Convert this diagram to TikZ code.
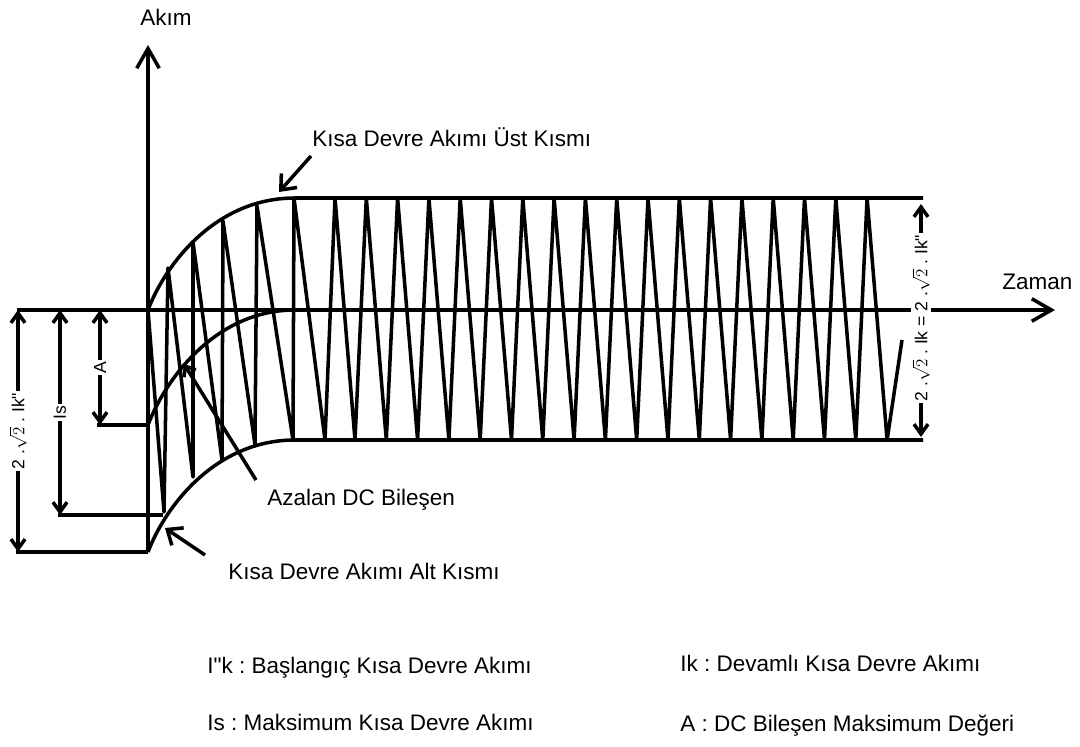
\documentclass[tikz,border=0pt]{standalone}
\usepackage{fontspec}
\setmainfont{Liberation Sans}
\usetikzlibrary{arrows.meta,calc,positioning}
\frenchspacing

\begin{document}
\begin{tikzpicture}[x=0.025cm,y=-0.025cm,
  curve/.style={line width=2.5pt,line join=round},
  axis/.style={line width=2.5pt,-{Straight Barb[length=14pt,width=16pt]}},
  dim/.style={line width=2.5pt,{Straight Barb[length=7pt,width=10pt]}-{Straight Barb[length=7pt,width=10pt]}},
  callout/.style={line width=2.5pt,-{Straight Barb[length=9pt,width=15pt]}},
  lbl/.style={font=\fontsize{16}{19}\selectfont,inner sep=0pt},
  dimlbl/.style={font=\fontsize{12.5}{15}\selectfont,fill=white,rotate=90,inner sep=1pt}]

\useasboundingbox (0,0) rectangle (1080,747);

\coordinate (o) at (148,310);
\coordinate (ytop) at (148,45);
\coordinate (ybot) at (148,552);
\coordinate (xl) at (17,310);
\coordinate (xr) at (1055,310);

\node[lbl,anchor=base] (akim) at (166,26) {Akım};
\node[lbl,anchor=base west] (zaman) at (1002,290) {Zaman};
\node[lbl,anchor=base west] (ust) at (312,147) {Kısa Devre Akımı Üst Kısmı};
\node[lbl,anchor=base west] (dc) at (267,506) {Azalan DC Bileşen};
\node[lbl,anchor=base west] (alt) at (228,579) {Kısa Devre Akımı Alt Kısmı};

\node[lbl,anchor=base west] (ikb) at (207,673) {I\textquotedbl k : Başlangıç Kısa Devre Akımı};
\node[lbl,anchor=base west] (ism) at (207,730) {Is : Maksimum Kısa Devre Akımı};
\node[lbl,anchor=base west] (ikd) at (680,671) {Ik : Devamlı Kısa Devre Akımı};
\node[lbl,anchor=base west] (adc) at (680,731) {A : DC Bileşen Maksimum Değeri};

\draw[axis] (ybot) -- (ytop);
\draw[axis] (xl) -- (xr);

\draw[curve] (o) .. controls (165,265) and (215,198) .. (295,198) -- (923,198);
\draw[curve] (148,425) .. controls (165,380) and (215,310) .. (295,310);
\draw[curve] (ybot) .. controls (165,507) and (215,440) .. (295,440) -- (923,440);

\draw[curve] (o) -- (164,512) -- (168,268) -- (193,477) -- (193,242) -- (222,460)
  -- (223,221) -- (255,445) -- (257,206) -- (293,440) -- (294,198) -- (325,440)
  \foreach \k in {0,...,17}{ -- ({335+31.3*\k},198) -- ({355+31.3*\k},440) }
  -- (902,340);

\coordinate (ae) at (97,425);
\coordinate (ise) at (58,515);
\coordinate (ike) at (16,552);
\draw[curve] (ae) -- (148,425);
\draw[curve] (ise) -- (163,515);
\draw[curve] (ike) -- (ybot);

\coordinate (at) at (100,310);
\coordinate (ab) at (100,425);
\coordinate (ist) at (60,310);
\coordinate (isb) at (60,515);
\coordinate (ikt) at (18,310);
\coordinate (ikbt) at (18,552);
\coordinate (rt) at (921,204);
\coordinate (rb) at (921,437);

\draw[dim] (at) -- node[dimlbl] {A} (ab);
\draw[dim] (ist) -- node[dimlbl] {Is} (isb);
\draw[dim] (ikt) -- node[dimlbl] {2 .$\sqrt{2}$ . Ik\textquotedbl} (ikbt);
\draw[dim] (rt) -- node[dimlbl,pos=0.49] {2 .$\sqrt{2}$ . Ik = 2 .$\sqrt{2}$ . Ik\textquotedbl} (rb);

\coordinate (tipu) at (279,192);
\coordinate (tipdc) at (184,364);
\coordinate (tipl) at (165,528);
\draw[callout] ([shift={(-1,9)}]ust.base west) -- (tipu);
\draw[line width=2.5pt,-{Straight Barb[length=6pt,width=10pt]}] ([shift={(-11,-26)}]dc.base west) -- (tipdc);
\draw[callout] ([shift={(-23,-24)}]alt.base west) -- (tipl);
\end{tikzpicture}
\end{document}
